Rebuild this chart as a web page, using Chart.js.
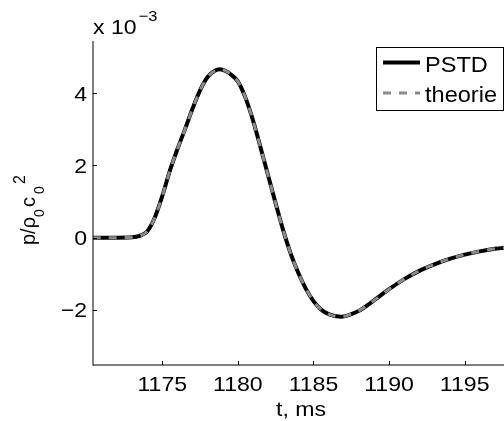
<!DOCTYPE html>
<html><head><meta charset="utf-8">
<script src="https://cdn.jsdelivr.net/npm/chart.js@4.4.0/dist/chart.umd.min.js"></script>
<style>html,body{margin:0;padding:0;background:#fff}canvas{display:block}</style>
</head><body>
<canvas id="c" width="504" height="421"></canvas>
<script>
// ---- data (y in units of 1e-3) ----
const timeMs = [1170.4, 1171, 1172, 1173, 1173.5, 1174, 1174.5, 1175, 1175.5, 1176, 1176.5, 1177, 1177.5, 1178, 1178.5, 1178.8, 1179.2, 1179.6, 1180, 1180.5, 1181, 1181.5, 1182, 1182.5, 1183, 1183.5, 1184, 1184.5, 1185, 1185.5, 1186, 1186.8, 1187.5, 1188, 1189, 1190, 1191, 1192, 1193, 1194, 1195, 1196, 1197, 1198];
const pstd    = [0, 0, 0, 0.01, 0.05, 0.17, 0.55, 1.15, 1.85, 2.45, 3.0, 3.57, 4.08, 4.45, 4.63, 4.67, 4.62, 4.5, 4.33, 3.88, 3.25, 2.5, 1.72, 0.95, 0.2, -0.45, -0.98, -1.42, -1.76, -1.99, -2.12, -2.19, -2.12, -2.03, -1.74, -1.43, -1.15, -0.92, -0.74, -0.59, -0.47, -0.38, -0.31, -0.26];
const theorie = [0, 0, 0, 0.01, 0.05, 0.17, 0.55, 1.15, 1.85, 2.45, 3.0, 3.57, 4.08, 4.45, 4.63, 4.67, 4.62, 4.5, 4.33, 3.88, 3.25, 2.5, 1.72, 0.95, 0.2, -0.45, -0.98, -1.42, -1.76, -1.99, -2.12, -2.19, -2.12, -2.03, -1.74, -1.43, -1.15, -0.92, -0.74, -0.59, -0.47, -0.38, -0.31, -0.26];
const seriesNames = ['PSTD', 'theorie'];
const xTickValues = [1175, 1180, 1185, 1190, 1195];
const yTickValues = [-2, 0, 2, 4];
const xTitle = 't, ms';
const yExponent = '\u22123';

const FONT = '"Liberation Sans", Arial, Helvetica, sans-serif';
const SX = 1.1; // horizontal stretch of the reference text

function txt(ctx, s, x, y, size, align, sx) {
  sx = sx || SX;
  ctx.save();
  ctx.font = size + 'px ' + FONT;
  ctx.fillStyle = '#000';
  ctx.textBaseline = 'alphabetic';
  const w = ctx.measureText(s).width * sx;
  let x0 = x;
  if (align === 'center') x0 = x - w / 2;
  else if (align === 'right') x0 = x - w;
  ctx.translate(x0, y);
  ctx.scale(sx, 1);
  ctx.textAlign = 'left';
  ctx.fillText(s, 0, 0);
  ctx.restore();
  return w;
}
function fmt(v) { return String(v).replace('-', '\u2212'); }

const decor = {
  id: 'decor',
  afterDraw(chart) {
    const ctx = chart.ctx, xs = chart.scales.x, ys = chart.scales.y, ca = chart.chartArea;
    // axis lines
    ctx.save();
    ctx.strokeStyle = '#000'; ctx.lineWidth = 1;
    ctx.beginPath();
    ctx.moveTo(ca.left, ca.top); ctx.lineTo(ca.left, ca.bottom + 0.5);
    ctx.moveTo(ca.left, ca.bottom); ctx.lineTo(ca.right, ca.bottom);
    ctx.stroke();
    // inward ticks
    ctx.beginPath();
    xs.ticks.forEach(t => { const px = Math.round(xs.getPixelForValue(t.value)) + 0.5; ctx.moveTo(px, ca.bottom); ctx.lineTo(px, ca.bottom - 4); });
    ys.ticks.forEach(t => { const py = Math.round(ys.getPixelForValue(t.value)) + 0.5; ctx.moveTo(ca.left, py); ctx.lineTo(ca.left + 4, py); });
    ctx.stroke();
    ctx.restore();
    // tick labels
    xs.ticks.forEach(t => txt(ctx, fmt(t.value), xs.getPixelForValue(t.value), 391, 21, 'center'));
    ys.ticks.forEach(t => txt(ctx, fmt(t.value), 87, ys.getPixelForValue(t.value) + 7.5, 21, 'right'));
    // x title
    txt(ctx, xTitle, 301, 416, 21, 'center');
    // exponent
    const w = txt(ctx, 'x 10', 93, 34, 21, 'left');
    txt(ctx, yExponent, 93 + w + 2, 21, 15, 'left');
    // y title (rotated) p/ρ0 c0 ^2
    ctx.save();
    ctx.translate(35, 245);
    ctx.rotate(-Math.PI / 2);
    ctx.fillStyle = '#000';
    const segs = [['p/\u03c1', 20, 0, 0], ['0', 14, 28, 9], ['c', 20, 38, 0], ['0', 14, 51, 9], ['2', 16, 61, -10]];
    segs.forEach(s => { ctx.font = s[1] + 'px ' + FONT; ctx.fillText(s[0], s[2], s[3]); });
    ctx.restore();
    // legend
    ctx.save();
    ctx.fillStyle = '#fff';
    ctx.fillRect(376, 47, 128, 63);
    ctx.strokeStyle = '#000'; ctx.lineWidth = 1;
    ctx.strokeRect(376.5, 47.5, 127, 63);
    const ds = chart.data.datasets;
    const rows = [[ds[1], 62.5, 72], [ds[0], 93, 101.5]];
    rows.forEach(r => {
      const d = r[0];
      ctx.save();
      ctx.strokeStyle = d.borderColor; ctx.lineWidth = d.borderWidth;
      ctx.setLineDash(d.borderDash || []);
      ctx.beginPath(); ctx.moveTo(383, r[1]); ctx.lineTo(420, r[1]); ctx.stroke();
      ctx.restore();
      txt(ctx, d.label, 425, r[2], 22, 'left', 1.07);
    });
    ctx.restore();
  }
};

Chart.defaults.font.family = FONT;
new Chart(document.getElementById('c'), {
  type: 'line',
  data: {
    datasets: [
      { label: seriesNames[1], data: timeMs.map((t, i) => ({ x: t, y: theorie[i] })), borderColor: '#8a8a8a', borderWidth: 3, borderDash: [8, 8], pointRadius: 0, cubicInterpolationMode: 'monotone', fill: false, order: 1 },
      { label: seriesNames[0], data: timeMs.map((t, i) => ({ x: t, y: pstd[i] })), borderColor: '#000', borderWidth: 4, pointRadius: 0, cubicInterpolationMode: 'monotone', fill: false, order: 2 }
    ]
  },
  options: {
    responsive: false,
    animation: false,
    events: [],
    layout: { padding: { top: 41, right: 0, left: 0, bottom: 0 } },
    plugins: { legend: { display: false }, tooltip: { enabled: false } },
    scales: {
      x: {
        type: 'linear', min: 1170.42, max: 1197.6,
        afterBuildTicks: s => { s.ticks = xTickValues.map(v => ({ value: v })); },
        afterFit: s => { s.height = 56; },
        ticks: { display: false },
        grid: { display: false }, border: { display: false }
      },
      y: {
        min: -3.53, max: 5.45,
        afterBuildTicks: s => { s.ticks = yTickValues.map(v => ({ value: v })); },
        afterFit: s => { s.width = 93; },
        ticks: { display: false },
        grid: { display: false }, border: { display: false }
      }
    }
  },
  plugins: [decor]
});
</script>
</body></html>
